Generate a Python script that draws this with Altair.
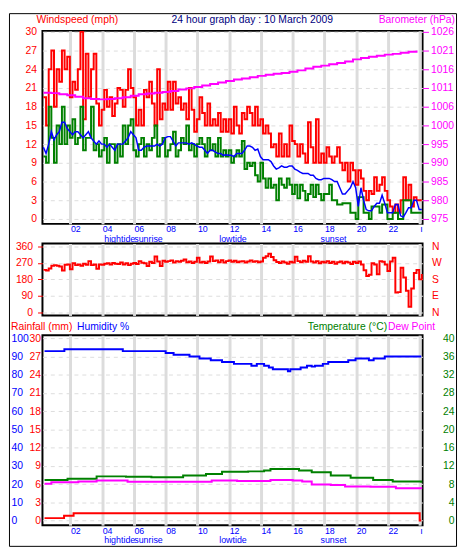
import json
import altair as alt
import pandas as pd

FONT = "Liberation Sans"
RED, GREEN, BLUE, MAGENTA, NAVY = "#ff0000", "#008000", "#0000ff", "#ff00ff", "#000080"

# ---------------- data (10-minute readings from 00:18) ----------------
gust = [
    19.5, 15, 24, 27, 18, 24,
    22, 27, 24, 26, 19.5, 22,
    20.7, 24, 30, 16, 26.5, 19.5,
    24, 26.5, 18.5, 15, 17.5, 20.7,
    18, 19.5, 16.5, 18.5, 21, 20.7,
    18, 20.7, 24, 21, 19.5, 15,
    17.5, 15, 20.7, 19.5, 22, 18.5,
    15, 24, 16, 18.5, 17.5, 22,
    17.5, 22, 18.5, 19.5, 17.5, 18.5,
    16, 21, 17.5, 14, 16, 19.5,
    17, 15, 18.5, 15, 16, 15,
    17, 14, 16, 14, 16, 13.7,
    18, 15, 13.7, 17, 16, 18,
    17, 15, 18, 15, 16, 13.7,
    15, 13.7, 11.5, 12, 10, 13.7,
    10, 12, 10, 15, 12.5, 12,
    10, 12, 10.5, 9, 15.5, 11.5,
    9, 16, 9, 10.5, 9, 11.5,
    10, 9, 10, 11.5, 9, 7.8,
    9, 6, 9, 7.8, 5.5, 7.8,
    6.5, 4.5, 3, 4.5, 4, 6.7,
    4.5, 5.5, 6.7, 4.5, 3, 2,
    1, 2.3, 1, 3, 6.7, 3,
    5.5, 2, 3.5, 3, 3, 3,
]
avg = [
    10, 9, 18, 13, 9, 15,
    12, 18, 12, 15, 13, 16,
    12, 13, 18, 11, 13, 13,
    18, 11, 12, 10, 11, 13,
    9, 12, 12, 9, 12, 10,
    15, 12, 15, 16, 11, 10,
    12, 13, 10, 12, 11, 13,
    15, 10, 12, 13, 10, 11,
    12, 14, 10, 11, 13, 12,
    15, 11, 12, 10, 12, 13,
    12, 10, 13, 11, 12, 10,
    13, 10, 11, 10, 11, 9,
    10, 11, 10, 12.5, 8, 9,
    8.5, 9, 7, 6, 9, 6.5,
    5, 6.5, 5, 5.5, 3, 6.5,
    5.5, 5, 6.5, 5.5, 4, 5.5,
    3.3, 5.5, 4.5, 3, 4, 5.5,
    3.5, 5.5, 4, 3, 4, 4,
    5.5, 3, 3, 2.3, 2.3, 2.5,
    2.5, 2.5, 1, 1, 0, 3.5,
    3.5, 1, 1, 0, 2, 2,
    2, 1, 2.3, 2.3, 0, 0,
    1, 1, 0, 0, 3, 3,
    3, 1, 1, 1, 1, 1,
]
avg10 = [
    11.5, 10.5, 12, 14, 12.7, 13.5,
    14, 15.5, 15.5, 14.5, 14, 13.5,
    14, 14, 13.5, 13, 13.5, 14,
    13, 12.5, 12, 12.5, 12, 12,
    11.5, 12, 11.5, 11, 12, 12,
    12, 12.5, 13, 14, 13.5, 13,
    11, 11, 11.5, 11.7, 11.7, 11.7,
    11.7, 12, 11.7, 12, 13, 13.2,
    13.2, 12.5, 11.7, 12.2, 12.2, 12.2,
    12.2, 12, 12.2, 12, 11.7, 11.5,
    11.5, 11, 10.5, 11, 11, 10.7,
    10.5, 10.5, 10.2, 10.3, 10.2, 10.2,
    10, 10.5, 10.5, 10.5, 11, 11.7,
    11.7, 11.5, 11, 11.2, 10, 9.5,
    9.5, 9.5, 9.2, 8.5, 8, 8.2,
    8.5, 8.3, 8.3, 8.5, 8.5, 8,
    7.8, 7.5, 7.3, 7.3, 7.3, 7,
    7, 6.5, 6.3, 6.3, 6.5, 6.5,
    6.5, 6.3, 6, 6, 5, 4,
    4, 4.5, 5, 6, 5, 2,
    5, 3, 1.5, 1.3, 1.3, 2,
    2.5, 2.5, 3.8, 2.5, 1, 1,
    1, 2.3, 2.3, 0.5, 0.3, 1,
    1.8, 1.8, 3, 3, 1.5, 1.5,
]
direction = [
    232, 228, 240, 255, 258, 255,
    250, 228, 260, 262, 235, 268,
    258, 262, 255, 265, 260, 280,
    258, 262, 238, 262, 260, 265,
    268, 262, 270, 266, 264, 272,
    262, 268, 258, 266, 270, 264,
    280, 271, 268, 253, 276, 270,
    305, 278, 253, 282, 276, 280,
    284, 272, 280, 276, 282, 289,
    274, 278, 270, 276, 298, 272,
    276, 270, 278, 305, 280, 284,
    274, 285, 272, 280, 284, 276,
    282, 274, 278, 280, 272, 278,
    284, 276, 280, 274, 278, 298,
    307, 320, 302, 285, 275, 270,
    278, 272, 266, 276, 272, 304,
    280, 274, 282, 276, 307, 278,
    272, 280, 268, 276, 272, 280,
    270, 276, 266, 274, 278, 268,
    276, 272, 264, 276, 270, 278,
    262, 230, 199, 205, 268, 262,
    208, 280, 276, 262, 226, 278,
    298, 108, 110, 244, 190, 117,
    30, 130, 215, 232, 180, 210,
]
hours = [round(0.3 + i / 6, 4) for i in range(len(gust))]

# barometer, half-hourly readings from 00:18
baro = [
    1009.4, 1009.3, 1009.0, 1008.7, 1008.3, 1007.9, 1007.7, 1007.6,
    1007.7, 1007.9, 1008.2, 1008.6, 1009.0, 1009.2, 1009.4, 1009.6,
    1009.9, 1010.3, 1010.6, 1011.0, 1011.4, 1011.8, 1012.2, 1012.6,
    1013.0, 1013.3, 1013.6, 1014.0, 1014.3, 1014.6, 1014.8, 1015.1,
    1015.5, 1016.0, 1016.5, 1016.8, 1017.2, 1017.5, 1017.9, 1018.5,
    1018.9, 1019.2, 1019.5, 1019.8, 1020.0, 1020.3, 1020.6, 1020.9,
]
baro_hours = [round(0.3 + i / 2, 4) for i in range(len(baro))]

hum_hours = [0.37, 1.62, 5.3, 8.0, 8.5, 9.5, 10.13, 10.84, 11.55, 12.3, 13.4, 13.74, 14.2, 14.5,
             14.75, 15.7, 15.85, 16.5, 16.9, 17.2, 17.4, 17.9, 18.24, 19.5, 19.96, 20.8, 21.1, 21.8, 24.1]
hum_vals = [93, 94, 93, 92, 91, 90, 89, 88, 87, 86, 85, 86, 85, 84,
            83, 82, 83, 84, 85, 84.5, 85, 86, 87, 88, 89, 88, 89, 90, 90]
temp_hours = [0.37, 1.82, 3.65, 5.5, 7.1, 9.1, 10.54, 11.55, 13.2, 14.2, 14.6, 16.0, 16.4, 17.2,
              18.4, 19.65, 21.07, 22.3, 24.1]
temp_vals = [8.9, 9.2, 9.7, 9.6, 9.5, 9.9, 10.2, 10.7, 10.8, 11.0, 11.3, 11.3, 11.0, 10.6,
             9.9, 9.4, 8.9, 8.6, 8.3]
dew_hours = [0.37, 0.8, 2.5, 3.65, 5.6, 10.4, 10.9, 12.5, 14.6, 16.0, 16.6, 17.2, 18.4, 19.3,
             20.9, 22.5, 24.1]
dew_vals = [8.1, 8.4, 8.6, 8.8, 8.5, 8.5, 8.8, 8.7, 8.9, 8.8, 8.6, 7.9, 7.8, 7.5,
            7.4, 7.1, 7.0]
rain_hours = [0.37, 1.6, 2.2, 24.0, 24.1]
rain_vals = [0.4, 0.8, 1.2, 0.0, 0.0]

events = ["hightide", "sunrise", "lowtide", "sunset"]
event_hours = [4.13, 6.02, 11.37, 17.75]

hour_ticks = [2, 4, 6, 8, 10, 12, 14, 16, 18, 20, 22, 24]
hour_labels = ["02", "04", "06", "08", "10", "12", "14", "16", "18", "20", "22", "ı"]
wind_ticks = [0, 3, 6, 9, 12, 15, 18, 21, 24, 27, 30]
baro_ticks = [975, 980.1, 985.2, 990.3, 995.4, 1000.5, 1005.6, 1010.7, 1015.8, 1020.9, 1026]
baro_labels = ["975", "980", "985", "990", "995", "1000", "1006", "1011", "1016", "1021", "1026"]
dir_ticks = [0, 90, 180, 270, 360]
dir_labels = ["N", "E", "S", "W", "N"]
hum_ticks = [0, 10, 20, 30, 40, 50, 60, 70, 80, 90, 100]
rain_ticks = [0, 3, 6, 9, 12, 15, 18, 21, 24, 27, 30]
temp_ticks = [0, 4, 8, 12, 16, 20, 24, 28, 32, 36, 40]

# ---------------- helpers ----------------
W = 386
H_TOP, H_MID, H_BOT = 196, 73, 193
GRID = "#dcdcdc"


def lookup_expr(labels, values):
    return f"{json.dumps(labels, ensure_ascii=False)}[indexof({json.dumps(values)}, datum.value)]"


def xenc(labels=True):
    return alt.X(
        "h:Q",
        scale=alt.Scale(domain=[0.24, 24.18], nice=False, zero=False),
        axis=alt.Axis(values=hour_ticks, labelExpr=lookup_expr(hour_labels, hour_ticks),
                      labels=labels, grid=True, gridColor=GRID, gridWidth=3, ticks=False,
                      domain=False, labelColor=BLUE, labelFontSize=9, labelAlign="left",
                      labelBaseline="top", labelPadding=1, labelFlush=False,
                      labelOverlap=False, title=None),
    )


def header(text, x, y, color, align="left", size=10.5):
    return alt.Chart(pd.DataFrame({"t": [text]})).mark_text(
        align=align, baseline="alphabetic", color=color, fontSize=size, font=FONT
    ).encode(text="t:N", x=alt.value(x), y=alt.value(y))


def event_layer(h):
    return alt.Chart(pd.DataFrame({"h": event_hours, "t": events})).mark_text(
        align="left", baseline="top", color=BLUE, fontSize=9, font=FONT
    ).encode(x=xenc(), text="t:N", y=alt.value(h + 11))


# ---------------- top panel ----------------
wind_df = pd.DataFrame({"h": hours, "gust": gust, "avg": avg, "avg10": avg10, "dir": direction})
wind_scale = alt.Scale(domain=[-0.79, 30.16], nice=False, zero=False)
wind_axis = alt.Axis(values=wind_ticks, orient="left", labelColor=RED, labelFontSize=10.5,
                     ticks=False, domain=False, grid=True, gridDash=[4, 4], gridColor=GRID,
                     labelPadding=6, title=None)


def wind_line(field, color, interp, width):
    return alt.Chart(wind_df).mark_line(color=color, strokeWidth=width, interpolate=interp).encode(
        x=xenc(), y=alt.Y(f"{field}:Q", scale=wind_scale, axis=wind_axis))


wind = alt.layer(wind_line("gust", RED, "step-after", 2),
                 wind_line("avg", GREEN, "step-after", 2),
                 wind_line("avg10", BLUE, "linear", 1.5))

baro_line = alt.Chart(pd.DataFrame({"h": baro_hours, "p": baro})).mark_line(
    color=MAGENTA, strokeWidth=2, interpolate="step-after"
).encode(
    x=xenc(),
    y=alt.Y("p:Q", scale=alt.Scale(domain=[973.66, 1026.27], nice=False, zero=False),
            axis=alt.Axis(orient="right", values=baro_ticks,
                          labelExpr=lookup_expr(baro_labels, baro_ticks),
                          labelColor=MAGENTA, tickColor=MAGENTA, tickSize=6, labelPadding=2,
                          domain=False, grid=False, labelFontSize=10.5, title=None)),
)

border = alt.Chart(pd.DataFrame({"k": [0]})).mark_rect(
    fillOpacity=0, stroke="black", strokeWidth=1
).encode(x=alt.value(-33.5), x2=alt.value(420.5), y=alt.value(-17.5), y2=alt.value(523.5))

top = alt.layer(
    wind, baro_line,
    header("Windspeed (mph)", -6, -8, RED),
    header("24 hour graph day : 10 March 2009", 213, -8, NAVY, "center"),
    header("Barometer (hPa)", 419, -8, MAGENTA, "right"),
    event_layer(H_TOP),
    border,
).resolve_scale(y="independent").properties(width=W, height=H_TOP)

# ---------------- middle panel (wind direction) ----------------
dir_domain = [-17.8, 376.2]
dir_left = alt.Chart(wind_df).mark_line(color=RED, strokeWidth=2, interpolate="step-after").encode(
    x=xenc(labels=False),
    y=alt.Y("dir:Q", scale=alt.Scale(domain=dir_domain, nice=False, zero=False),
            axis=alt.Axis(values=dir_ticks, orient="left", labelColor=RED, tickColor=RED,
                          tickSize=5, labelPadding=5, domain=False, grid=True, gridDash=[4, 4],
                          gridColor=GRID, labelFontSize=10.5, title=None)),
)
dir_right = alt.Chart(wind_df).mark_line(opacity=0).encode(
    x=xenc(labels=False),
    y=alt.Y("dir:Q", scale=alt.Scale(domain=dir_domain, nice=False, zero=False),
            axis=alt.Axis(values=dir_ticks, orient="right",
                          labelExpr=lookup_expr(dir_labels, dir_ticks), labelColor=RED,
                          ticks=False, labelPadding=9, domain=False, grid=False,
                          labelFontSize=10.5, title=None)),
)
mid = alt.layer(dir_left, dir_right).resolve_scale(y="independent").properties(width=W, height=H_MID)

# ---------------- bottom panel ----------------
hum_line = alt.Chart(pd.DataFrame({"h": hum_hours, "v": hum_vals})).mark_line(
    color=BLUE, strokeWidth=2, interpolate="step-after"
).encode(
    x=xenc(),
    y=alt.Y("v:Q", scale=alt.Scale(domain=[-2.54, 101.78], nice=False, zero=False),
            axis=alt.Axis(values=hum_ticks, orient="left", offset=30, labelAlign="left",
                          labelPadding=2, labelColor=BLUE, ticks=False, domain=False,
                          grid=False, labelFontSize=10.5, title=None)),
)
rain_line = alt.Chart(pd.DataFrame({"h": rain_hours, "v": rain_vals})).mark_line(
    color=RED, strokeWidth=2, interpolate="step-after"
).encode(
    x=xenc(),
    y=alt.Y("v:Q", scale=alt.Scale(domain=[-0.762, 30.534], nice=False, zero=False),
            axis=alt.Axis(values=rain_ticks, orient="left", labelPadding=2, labelColor=RED,
                          ticks=False, domain=False, grid=True, gridDash=[4, 4],
                          gridColor=GRID, labelFontSize=10.5, title=None)),
)
temp_scale = alt.Scale(domain=[-1.016, 40.712], nice=False, zero=False)
temp_axis = alt.Axis(values=temp_ticks, orient="right", labelAlign="right", labelPadding=32,
                     labelColor=GREEN, ticks=False, domain=False, grid=False,
                     labelFontSize=10.5, title=None)
temp_line = alt.Chart(pd.DataFrame({"h": temp_hours, "v": temp_vals})).mark_line(
    color=GREEN, strokeWidth=2, interpolate="step-after"
).encode(x=xenc(), y=alt.Y("v:Q", scale=temp_scale, axis=temp_axis))
dew_line = alt.Chart(pd.DataFrame({"h": dew_hours, "v": dew_vals})).mark_line(
    color=MAGENTA, strokeWidth=2, interpolate="step-after"
).encode(x=xenc(), y=alt.Y("v:Q", scale=temp_scale, axis=temp_axis))

bottom = alt.layer(
    hum_line, rain_line, alt.layer(temp_line, dew_line),
    header("Rainfall (mm)", -32, -5, RED),
    header("Humidity %", 35, -5, BLUE),
    header("Temperature (°C)", 350, -5, GREEN, "right"),
    header("Dew Point", 351, -5, MAGENTA),
    event_layer(H_BOT),
).resolve_scale(y="independent").properties(width=W, height=H_BOT)

chart = alt.vconcat(top, mid, bottom, spacing=20, bounds="flush", padding=0).resolve_scale(
    y="independent"
).configure_view(stroke="black", strokeWidth=2).configure_axis(
    labelFont=FONT
).configure_text(font=FONT).properties(background="white")

chart.save("out.html", embed_options={"renderer": "svg", "actions": False})
